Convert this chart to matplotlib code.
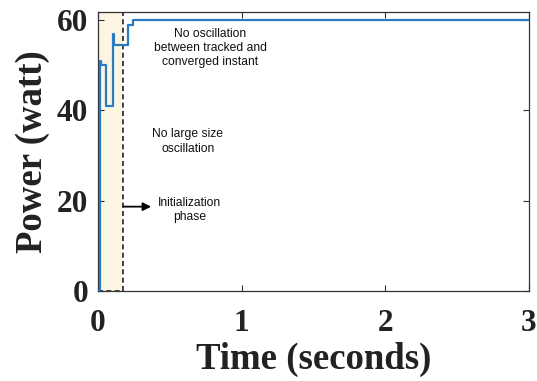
import matplotlib
matplotlib.use("Agg")
import matplotlib.pyplot as plt
from matplotlib.patches import Rectangle

# data (step changes of the tracked power)
time_s = [0.0, 0.012, 0.020, 0.058, 0.103, 0.108, 0.210, 0.245, 3.0]
power_w = [0.0, 51.0, 50.0, 41.0, 57.0, 54.5, 59.0, 60.0, 60.0]
xticks = [0, 1, 2, 3]
yticks = [0, 20, 40, 60]
init_end = 0.175

fig = plt.figure(figsize=(5.37, 3.81), dpi=100)
ax = fig.add_axes([0.1825, 0.236, 0.8025, 0.7325])

ax.add_patch(Rectangle((0, 0), init_end, 61.8, facecolor="#fcf5e4",
                       edgecolor="#222222", linestyle=(0, (3, 2)), linewidth=1.2, zorder=1))
ax.plot(time_s, power_w, drawstyle="steps-post", color="#2a7bc0", linewidth=1.6, zorder=3)

ax.set_xlim(0, 3)
ax.set_ylim(0, 61.8)
ax.set_xticks(xticks)
ax.set_yticks(yticks)
serif = {"family": "Liberation Serif", "weight": "bold"}
ax.set_xticklabels([str(v) for v in xticks], fontdict=dict(serif, size=22.5))
ax.set_yticklabels([str(v) for v in yticks], fontdict=dict(serif, size=22.5))
ax.tick_params(direction="in", top=True, right=True, length=4, width=0.8, colors="#333333",
               labelcolor="#222222")
ax.tick_params(axis="x", pad=13)
ax.tick_params(axis="y", pad=7)
ax.set_xlabel("Time (seconds)", fontdict=dict(serif, size=26.5), color="#222222", labelpad=3)
ax.set_ylabel("Power (watt)", fontdict=dict(serif, size=26.5), color="#222222", labelpad=5)
for s in ax.spines.values():
    s.set_color("#333333")
    s.set_linewidth(0.9)

sans = dict(family="Liberation Sans", size=8.7, ha="center", va="center",
            linespacing=1.25, color="#111111")
ax.text(0.78, 53.8, "No oscillation\nbetween tracked and\nconverged instant", **sans)
ax.text(0.626, 33.1, "No large size\noscillation", **sans)
ax.text(0.64, 18.0, "Initialization\nphase", **sans)
ax.annotate("", xy=(0.37, 18.7), xytext=(init_end, 18.7),
            arrowprops=dict(arrowstyle="-|>", color="black", lw=1.3, mutation_scale=12,
                            shrinkA=0, shrinkB=0))

fig.savefig("out.png", dpi=100)
